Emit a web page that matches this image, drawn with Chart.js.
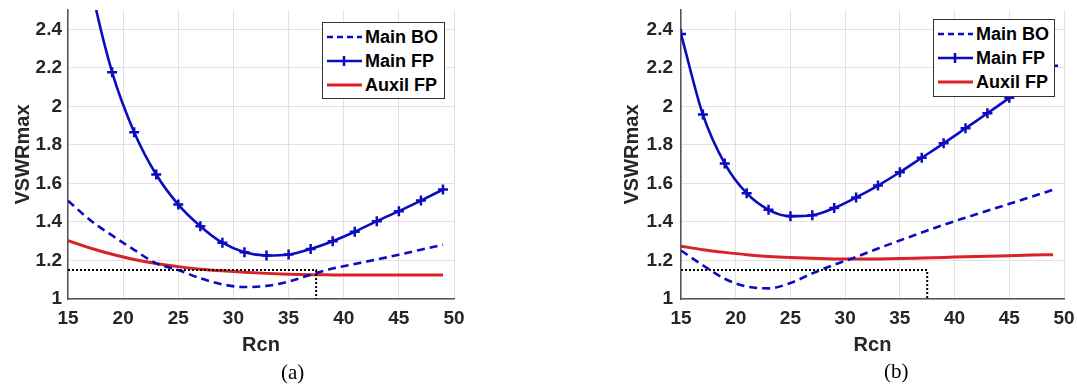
<!DOCTYPE html>
<html>
<head>
<meta charset="utf-8">
<script src="https://cdn.jsdelivr.net/npm/chart.js@4"></script>
<style>
    body { margin: 0; background: #fff; width: 1077px; height: 387px; overflow: hidden; }
    .panel { position: absolute; top: 0; height: 387px; }
    .legend { position: absolute; background: #fff; border: 1px solid #333; box-sizing: border-box;
              font: bold 18px "Liberation Sans", Arial, sans-serif; color: #000; }
    .legend div { position: absolute; left: 0; height: 24px; line-height: 24px; white-space: nowrap; }
    .legend svg { position: absolute; left: 4px; top: 0; }
    .legend span { position: absolute; left: 42px; top: 0; }
    .caption { position: absolute; font: 21px "Liberation Serif", "Times New Roman", serif; color: #000; }
</style>
</head>
<body>
<div class="panel" id="panelA" style="left:0;width:540px;">
    <canvas id="graficoA" width="540" height="387"></canvas>
</div>
<div class="panel" id="panelB" style="left:540px;width:537px;">
    <canvas id="graficoB" width="537" height="387"></canvas>
</div>
<div class="caption" style="left:281px;top:360px;">(a)</div>
<div class="caption" style="left:884px;top:359px;">(b)</div>

<script>
// eixo x comum
const rcn = [15, 17, 19, 21, 23, 25, 27, 29, 31, 33, 35, 37, 39, 41, 43, 45, 47, 49];
const xTicks = [15, 20, 25, 30, 35, 40, 45, 50];
const yTicks = [1, 1.2, 1.4, 1.6, 1.8, 2, 2.2, 2.4];

// (a)
const mainBO_a = [1.51, 1.41, 1.33, 1.255, 1.185, 1.15, 1.108, 1.076, 1.062, 1.068, 1.09, 1.126, 1.158, 1.182, 1.205, 1.23, 1.256, 1.282];
const mainFP_a = [3.3, 2.65, 2.177, 1.866, 1.646, 1.49, 1.378, 1.292, 1.243, 1.226, 1.231, 1.26, 1.30, 1.349, 1.404, 1.456, 1.511, 1.568];
const auxFP_a = [1.303, 1.265, 1.232, 1.205, 1.184, 1.168, 1.155, 1.146, 1.139, 1.133, 1.129, 1.126, 1.125, 1.124, 1.124, 1.124, 1.124, 1.124];

// (b)
const mainBO_b = [1.252, 1.175, 1.105, 1.065, 1.055, 1.083, 1.133, 1.178, 1.218, 1.262, 1.304, 1.345, 1.385, 1.422, 1.458, 1.494, 1.53, 1.567];
const mainFP_b = [2.376, 1.957, 1.703, 1.549, 1.463, 1.43, 1.435, 1.472, 1.527, 1.589, 1.658, 1.733, 1.808, 1.886, 1.964, 2.044, 2.128, 2.21];
const auxFP_b = [1.274, 1.256, 1.242, 1.23, 1.221, 1.215, 1.211, 1.208, 1.207, 1.208, 1.21, 1.213, 1.216, 1.219, 1.222, 1.225, 1.228, 1.23];

// linha pontilhada de referencia (VSWR 1.15)
const refX = [15, 37.5, 37.5];
const refY = [1.15, 1.15, 1];

const azul = '#0b0bbf';
const vermelho = '#d92326';
const fonte = '"Liberation Sans", Arial, sans-serif';

function pares(xs, ys) {
    return xs.map((x, i) => ({ x: x, y: ys[i] }));
}

function semPadding(s) {
    s.paddingTop = 0;
    s.paddingBottom = 0;
    s.paddingLeft = 0;
    s.paddingRight = 0;
}

function criarGrafico(id, painel, series, opt) {
    let datasets = [
        { label: 'ref', data: pares(refX, refY), borderColor: '#000', borderWidth: 2, borderDash: [2, 2],
          pointRadius: 0, tension: 0 },
        { label: 'Main FP', data: pares(rcn, series.fp), borderColor: azul, borderWidth: 2.6,
          pointStyle: 'cross', pointRadius: 5, pointBorderWidth: 2.5, pointBorderColor: azul,
          cubicInterpolationMode: 'monotone' },
        { label: 'Main BO', data: pares(rcn, series.bo), borderColor: azul, borderWidth: 2.6, borderDash: [8, 5],
          pointRadius: 0, cubicInterpolationMode: 'monotone' },
        { label: 'Auxil FP', data: pares(rcn, series.aux), borderColor: vermelho, borderWidth: 3,
          pointRadius: 0, cubicInterpolationMode: 'monotone' }
    ];

    let ctx = document.getElementById(id).getContext('2d');
    new Chart(ctx, {
        type: 'line',
        data: { datasets: datasets },
        options: {
            responsive: false,
            animation: false,
            events: [],
            layout: { padding: { left: opt.padLeft, right: opt.padRight, top: 10, bottom: 28 } },
            plugins: { legend: { display: false }, tooltip: { enabled: false } },
            scales: {
                x: {
                    type: 'linear', min: 15, max: 50,
                    afterBuildTicks: s => { s.ticks = xTicks.map(v => ({ value: v })); },
                    afterFit: s => { s.height = 60; semPadding(s); },
                    grid: { color: '#e2e2e2', lineWidth: 1, drawTicks: false },
                    border: { color: '#555', width: 1.5 },
                    ticks: { padding: 8, color: '#262626', font: { family: fonte, size: 19, weight: 'bold' } },
                    title: { display: true, text: 'Rcn', color: '#262626', padding: { top: 0, bottom: 2 },
                             font: { family: fonte, size: 20, weight: 'bold' } }
                },
                y: {
                    min: 1, max: 2.5,
                    afterBuildTicks: s => { s.ticks = yTicks.map(v => ({ value: v })); },
                    afterFit: s => { s.width = 68; semPadding(s); },
                    grid: { color: '#e2e2e2', lineWidth: 1, drawTicks: false },
                    border: { color: '#555', width: 1.5 },
                    ticks: { padding: opt.tickPad, color: '#262626', font: { family: fonte, size: 19, weight: 'bold' },
                             callback: v => String(Math.round(v * 10) / 10) },
                    title: { display: true, text: 'VSWRmax', color: '#262626', padding: { top: opt.titlePad, bottom: 0 },
                             font: { family: fonte, size: 20, weight: 'bold' } }
                }
            }
        }
    });

    // legenda dentro da area do grafico
    let leg = document.createElement('div');
    leg.className = 'legend';
    leg.style.left = opt.leg[0] + 'px';
    leg.style.top = opt.leg[1] + 'px';
    leg.style.width = opt.leg[2] + 'px';
    leg.style.height = opt.leg[3] + 'px';
    let itens = [datasets[2], datasets[1], datasets[3]];
    leg.innerHTML = itens.map((d, i) => {
        let dash = d.borderDash ? `stroke-dasharray="6,4"` : '';
        let marca = d.pointStyle === 'cross'
            ? `<line x1="17" y1="7" x2="17" y2="17" stroke="${d.borderColor}" stroke-width="2.5"/>` : '';
        return `<div style="top:${2 + i * 24}px">
            <svg width="36" height="24"><line x1="0" y1="12" x2="35" y2="12" stroke="${d.borderColor}"
                stroke-width="${d.borderWidth}" ${dash}/>${marca}</svg>
            <span>${d.label}</span></div>`;
    }).join('');
    document.getElementById(painel).appendChild(leg);
}

criarGrafico('graficoA', 'panelA', { bo: mainBO_a, fp: mainFP_a, aux: auxFP_a },
    { padLeft: 0, padRight: 86, tickPad: 6, titlePad: 11, leg: [322, 22, 123, 77] });
criarGrafico('graficoB', 'panelB', { bo: mainBO_b, fp: mainFP_b, aux: auxFP_b },
    { padLeft: 73, padRight: 13, tickPad: 8, titlePad: 7, leg: [393, 19, 122, 78] });
</script>
</body>
</html>
